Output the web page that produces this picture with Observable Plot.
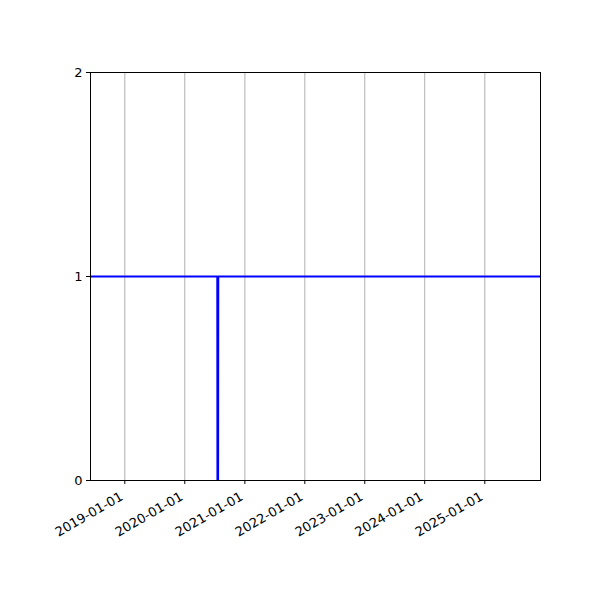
<!DOCTYPE html>
<html>
<head>
<meta charset="utf-8">
<script src="https://cdn.jsdelivr.net/npm/d3@7"></script>
<script src="https://cdn.jsdelivr.net/npm/@observablehq/plot@0.6"></script>
<style>
  html, body { margin: 0; padding: 0; background: white; }
  svg { display: block; }
</style>
</head>
<body>
<div id="chart"></div>
<script>
const dates = ["2018-06-06", "2020-07-17", "2020-07-18", "2020-07-22", "2020-07-23", "2025-12-06"];
const values = [1, 1, 0, 0, 1, 1];
const xTickLabels = ["2019-01-01", "2020-01-01", "2021-01-01", "2022-01-01", "2023-01-01", "2024-01-01", "2025-01-01"];
const yTicks = [0, 1, 2];
const xDomain = ["2018-06-06", "2025-12-06"];

const data = dates.map((d, i) => ({date: new Date(d + "T00:00:00Z"), value: values[i]}));
const xTicks = xTickLabels.map(s => new Date(s + "T00:00:00Z"));
const fmt = d3.utcFormat("%Y-%m-%d");

const chart = Plot.plot({
  width: 600,
  height: 600,
  marginLeft: 90,
  marginRight: 60,
  marginTop: 72,
  marginBottom: 120,
  style: {fontFamily: "DejaVu Sans", fontSize: "13px", color: "black", background: "white"},
  x: {type: "utc", domain: xDomain.map(s => new Date(s + "T00:00:00Z"))},
  y: {domain: [0, 2]},
  marks: [
    Plot.gridX(xTicks, {stroke: "#b0b0b0", strokeOpacity: 1, strokeWidth: 1}),
    Plot.line(data, {x: "date", y: "value", stroke: "#0000ff", strokeWidth: 2, clip: true}),
    Plot.frame({stroke: "black", strokeWidth: 1}),
    Plot.axisX(xTicks, {tickSize: 4, tickFormat: () => "", label: null}),
    Plot.axisX(xTicks, {tickFormat: fmt, tickRotate: -30, tickSize: 0, tickPadding: 7, label: null, fontSize: 13, dy: 8, dx: -3}),
    Plot.axisY(yTicks, {tickFormat: d3.format("d"), tickSize: 4, tickPadding: 4, label: null, fontSize: 13})
  ]
});
document.getElementById("chart").appendChild(chart);
</script>
</body>
</html>
